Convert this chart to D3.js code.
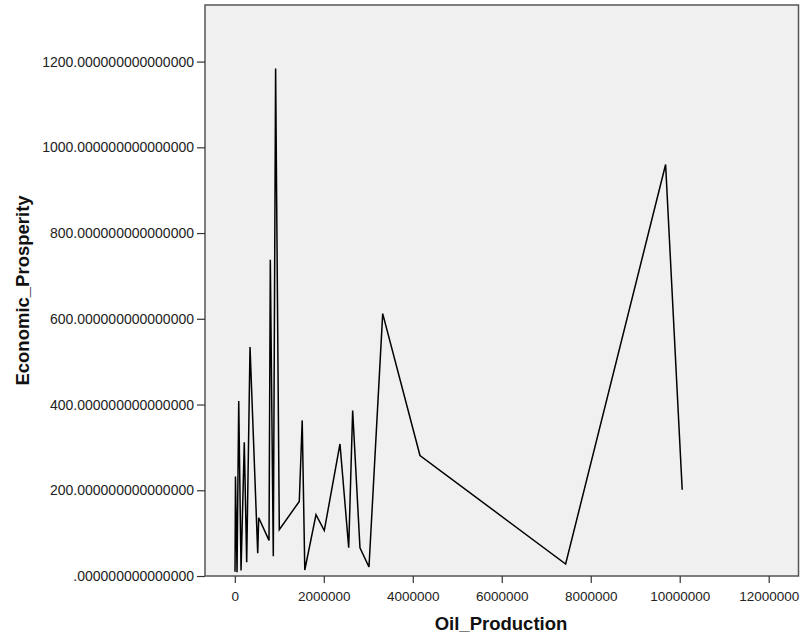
<!DOCTYPE html>
<html>
<head>
<meta charset="utf-8">
<script src="https://cdn.jsdelivr.net/npm/d3@7"></script>
<style>
  html, body { margin: 0; padding: 0; background: #fff; }
  svg { display: block; }
</style>
</head>
<body>
<svg id="chart" width="801" height="640"></svg>
<script>
// ---- data ----
const oilProduction = [5000, 15000, 50000, 88000, 140000, 213000, 267000, 342000, 515000, 537000,
  769000, 798000, 865000, 917000, 1000000, 1449000, 1515000, 1573000, 1825000, 2011000,
  2364000, 2560000, 2649000, 2813000, 3016000, 3324000, 4162000, 7436000, 9683000, 10056000];
const economicProsperity = [10, 232, 9, 408, 13, 312, 32, 534, 53, 136,
  83, 738, 46, 1184, 108, 174, 363, 14, 143, 106,
  308, 66, 386, 66, 21, 612, 281, 28, 960, 201];
const xTickValues = [0, 2000000, 4000000, 6000000, 8000000, 10000000, 12000000];
const yTickValues = [0, 200, 400, 600, 800, 1000, 1200];
const xTitle = "Oil_Production";
const yTitle = "Economic_Prosperity";

const data = oilProduction.map((x, i) => ({ x, y: economicProsperity[i] }));

const svg = d3.select("#chart");
const pLeft = 205, pRight = 798.5, pTop = 5, pBottom = 576;

const x = d3.scaleLinear().domain([-670000, 12670000]).range([pLeft, pRight]);
const y = d3.scaleLinear().domain([0, 1332]).range([pBottom, pTop]);

// plot background
svg.append("rect")
  .attr("x", pLeft).attr("y", pTop)
  .attr("width", pRight - pLeft).attr("height", pBottom - pTop)
  .attr("fill", "#f0f0f0");

// line
svg.append("path")
  .datum(data)
  .attr("fill", "none")
  .attr("stroke", "#000")
  .attr("stroke-width", 1.5)
  .attr("stroke-linejoin", "miter")
  .attr("d", d3.line().x(d => x(d.x)).y(d => y(d.y)));

// frame
svg.append("rect")
  .attr("x", pLeft).attr("y", pTop)
  .attr("width", pRight - pLeft).attr("height", pBottom - pTop)
  .attr("fill", "none")
  .attr("stroke", "#555")
  .attr("stroke-width", 1.5);

const yFmt = d => (d === 0 ? "" : String(d)) + ".000000000000000";

const yAxis = svg.append("g")
  .attr("transform", `translate(${pLeft},0)`)
  .call(d3.axisLeft(y).tickValues(yTickValues).tickFormat(yFmt).tickSize(8).tickPadding(3));
const xAxis = svg.append("g")
  .attr("transform", `translate(0,${pBottom})`)
  .call(d3.axisBottom(x).tickValues(xTickValues).tickFormat(d3.format("d")).tickSize(7).tickPadding(8));

[yAxis, xAxis].forEach(g => {
  g.select(".domain").remove();
  g.selectAll(".tick line").attr("stroke", "#333").attr("stroke-width", 1.2);
  g.selectAll(".tick text")
    .attr("fill", "#222")
    .style("font-family", "'Liberation Sans', Arial, sans-serif");
});
yAxis.selectAll(".tick text").style("font-size", "14px");
xAxis.selectAll(".tick text").style("font-size", "13.5px");

// titles
svg.append("text")
  .attr("x", 501).attr("y", 630)
  .attr("text-anchor", "middle")
  .style("font-family", "'Liberation Sans', Arial, sans-serif")
  .style("font-size", "18.5px").style("font-weight", "bold")
  .attr("fill", "#111")
  .text(xTitle);

svg.append("text")
  .attr("transform", `translate(29,${(pTop + pBottom) / 2}) rotate(-90)`)
  .attr("text-anchor", "middle")
  .style("font-family", "'Liberation Sans', Arial, sans-serif")
  .style("font-size", "18.5px").style("font-weight", "bold")
  .attr("fill", "#111")
  .text(yTitle);
</script>
</body>
</html>
